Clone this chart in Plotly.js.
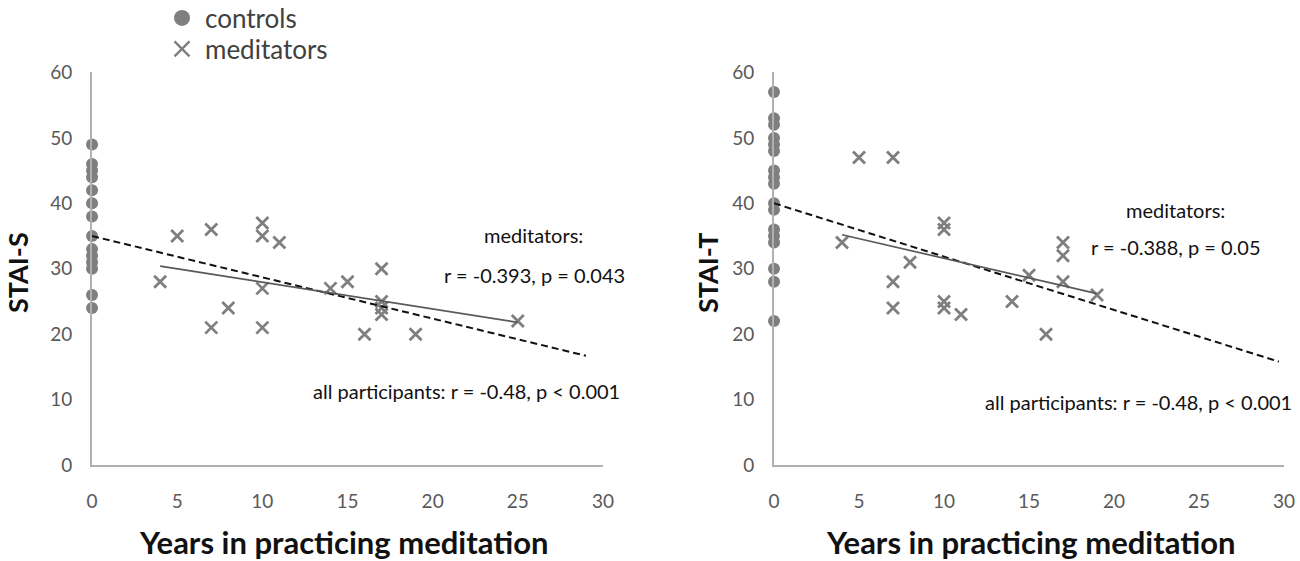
<!DOCTYPE html>
<html>
<head>
<meta charset="utf-8">
<script src="https://cdn.plot.ly/plotly-3.0.1.min.js"></script>
<style>
html, body { margin: 0; padding: 0; background: #fff; }
#chart { width: 1300px; height: 561px; }
</style>
</head>
<body>
<div id="chart"></div>
<script>
// STAI-S panel (left)
var stateControlsY = [49, 46, 45, 44, 42, 40, 38, 35, 33, 32, 31, 30, 26, 24];
var stateMeditatorsX = [4, 5, 7, 7, 8, 10, 10, 10, 10, 11, 14, 15, 16, 17, 17, 17, 17, 19, 25];
var stateMeditatorsY = [28, 35, 36, 21, 24, 37, 35, 27, 21, 34, 27, 28, 20, 30, 25, 24, 23, 20, 22];
var stateAllFitX = [0, 29];
var stateAllFitY = [35, 16.7];
var stateMedFitX = [4, 25];
var stateMedFitY = [30.4, 21.8];

// STAI-T panel (right)
var traitControlsY = [57, 53, 52, 50, 49, 48, 45, 44, 43, 40, 39, 36, 35, 34, 30, 28, 22];
var traitMeditatorsX = [4, 5, 7, 7, 7, 8, 10, 10, 10, 10, 11, 14, 15, 16, 17, 17, 17, 19];
var traitMeditatorsY = [34, 47, 47, 28, 24, 31, 37, 36, 25, 24, 23, 25, 29, 20, 34, 32, 28, 26];
var traitAllFitX = [0, 29.7];
var traitAllFitY = [40, 15.8];
var traitMedFitX = [4, 19];
var traitMedFitY = [35.2, 26.2];

var panelLabels = ["STAI-S", "STAI-T"];
var xAxisLabel = "Years in practicing meditation";
var medStatLabels = ["r = -0.393, p = 0.043", "r = -0.388, p = 0.05"];
var allStatLabel = "all participants: r = -0.48, p < 0.001";

var markerGrey = "#7f7f7f";
var fontFamily = "Lato, 'Open Sans', sans-serif";

function zeros(arr)
{
    return arr.map(function () { return 0; });
}

function panelTraces(controlsY, medX, medY, allFitX, allFitY, medFitX, medFitY, xa, ya)
{
    var controls =
    {
        x: zeros(controlsY), y: controlsY,
        xaxis: xa, yaxis: ya,
        type: "scatter", mode: "markers",
        cliponaxis: false, showlegend: false,
        marker: { symbol: "circle", size: 12, color: markerGrey }
    };

    var meditators =
    {
        x: medX, y: medY,
        xaxis: xa, yaxis: ya,
        type: "scatter", mode: "markers",
        cliponaxis: false, showlegend: false,
        marker: { symbol: "x-thin", size: 12, color: markerGrey, line: { color: markerGrey, width: 2.8 } }
    };

    var allFit =
    {
        x: allFitX, y: allFitY,
        xaxis: xa, yaxis: ya,
        type: "scatter", mode: "lines", showlegend: false,
        line: { color: "#111111", width: 2, dash: "7px,4px" }
    };

    var medFit =
    {
        x: medFitX, y: medFitY,
        xaxis: xa, yaxis: ya,
        type: "scatter", mode: "lines", showlegend: false,
        line: { color: "#595959", width: 1.7 }
    };

    return [controls, meditators, allFit, medFit];
}

var legendControls =
{
    x: [null], y: [null], type: "scatter", mode: "markers", name: "controls",
    legend: "legend",
    marker: { symbol: "circle", size: 16, color: markerGrey }
};

var legendMeditators =
{
    x: [null], y: [null], type: "scatter", mode: "markers", name: "meditators",
    legend: "legend2",
    marker: { symbol: "x-thin", size: 15, color: markerGrey, line: { color: markerGrey, width: 2.4 } }
};

var data = []
    .concat(panelTraces(stateControlsY, stateMeditatorsX, stateMeditatorsY, stateAllFitX, stateAllFitY, stateMedFitX, stateMedFitY, "x", "y"))
    .concat(panelTraces(traitControlsY, traitMeditatorsX, traitMeditatorsY, traitAllFitX, traitAllFitY, traitMedFitX, traitMedFitY, "x2", "y2"))
    .concat([legendControls, legendMeditators]);

function xAxis(domain, anchor)
{
    return {
        domain: domain, anchor: anchor, range: [0, 30], dtick: 5,
        showline: true, linecolor: "#b0b0b0", linewidth: 2,
        showgrid: false, zeroline: false, ticks: "", ticklabelstandoff: 18,
        tickfont: { family: fontFamily, size: 19, color: "#595959" }
    };
}

function yAxis(domain, anchor)
{
    return {
        domain: domain, anchor: anchor, range: [0, 60], dtick: 10,
        showline: true, linecolor: "#b0b0b0", linewidth: 2,
        showgrid: false, zeroline: false, ticks: "", ticklabelstandoff: 14,
        tickfont: { family: fontFamily, size: 19, color: "#595959" }
    };
}

var yDomain = [0.1711, 0.8708];

function note(text, x, y, size, extra)
{
    var a =
    {
        text: text, xref: "paper", yref: "paper",
        x: x / 1300, y: 1 - y / 561,
        xanchor: "center", yanchor: "middle", showarrow: false,
        font: { family: fontFamily, size: size, color: "#111111" }
    };
    return Object.assign(a, extra || {});
}

var boldTitle = { family: fontFamily, size: 31, color: "#111", weight: 700 };
var boldSide = { family: fontFamily, size: 27, color: "#111", weight: 700 };

var annotations =
[
    note(panelLabels[0], 18, 273, 27, { textangle: -90, font: boldSide }),
    note(panelLabels[1], 708, 273, 27, { textangle: -90, font: boldSide }),
    note(xAxisLabel, 344, 542, 31, { font: boldTitle }),
    note(xAxisLabel, 1031, 542, 31, { font: boldTitle }),
    note("meditators:", 533, 235, 20),
    note(medStatLabels[0], 534, 275, 20),
    note(allStatLabel, 466, 391, 20),
    note("meditators:", 1175, 210, 20),
    note(medStatLabels[1], 1175, 247, 20),
    note(allStatLabel, 1138, 402, 20)
];

function legendBox(yCentre)
{
    return {
        x: 159 / 1300, y: 1 - yCentre / 561, xanchor: "left", yanchor: "middle",
        bgcolor: "rgba(0,0,0,0)", borderwidth: 0, itemwidth: 36,
        font: { family: fontFamily, size: 26, color: "#404040" }
    };
}

var layout =
{
    width: 1300, height: 561,
    margin: { l: 0, r: 0, t: 0, b: 0, autoexpand: false },
    paper_bgcolor: "#fff", plot_bgcolor: "#fff",
    xaxis: xAxis([0.0708, 0.4638], "y"),
    yaxis: yAxis(yDomain, "x"),
    xaxis2: xAxis([0.5954, 0.9877], "y2"),
    yaxis2: yAxis(yDomain, "x2"),
    showlegend: true,
    legend: legendBox(18),
    legend2: legendBox(49),
    annotations: annotations
};

Plotly.newPlot("chart", data, layout, { displayModeBar: false, staticPlot: true });
</script>
</body>
</html>
